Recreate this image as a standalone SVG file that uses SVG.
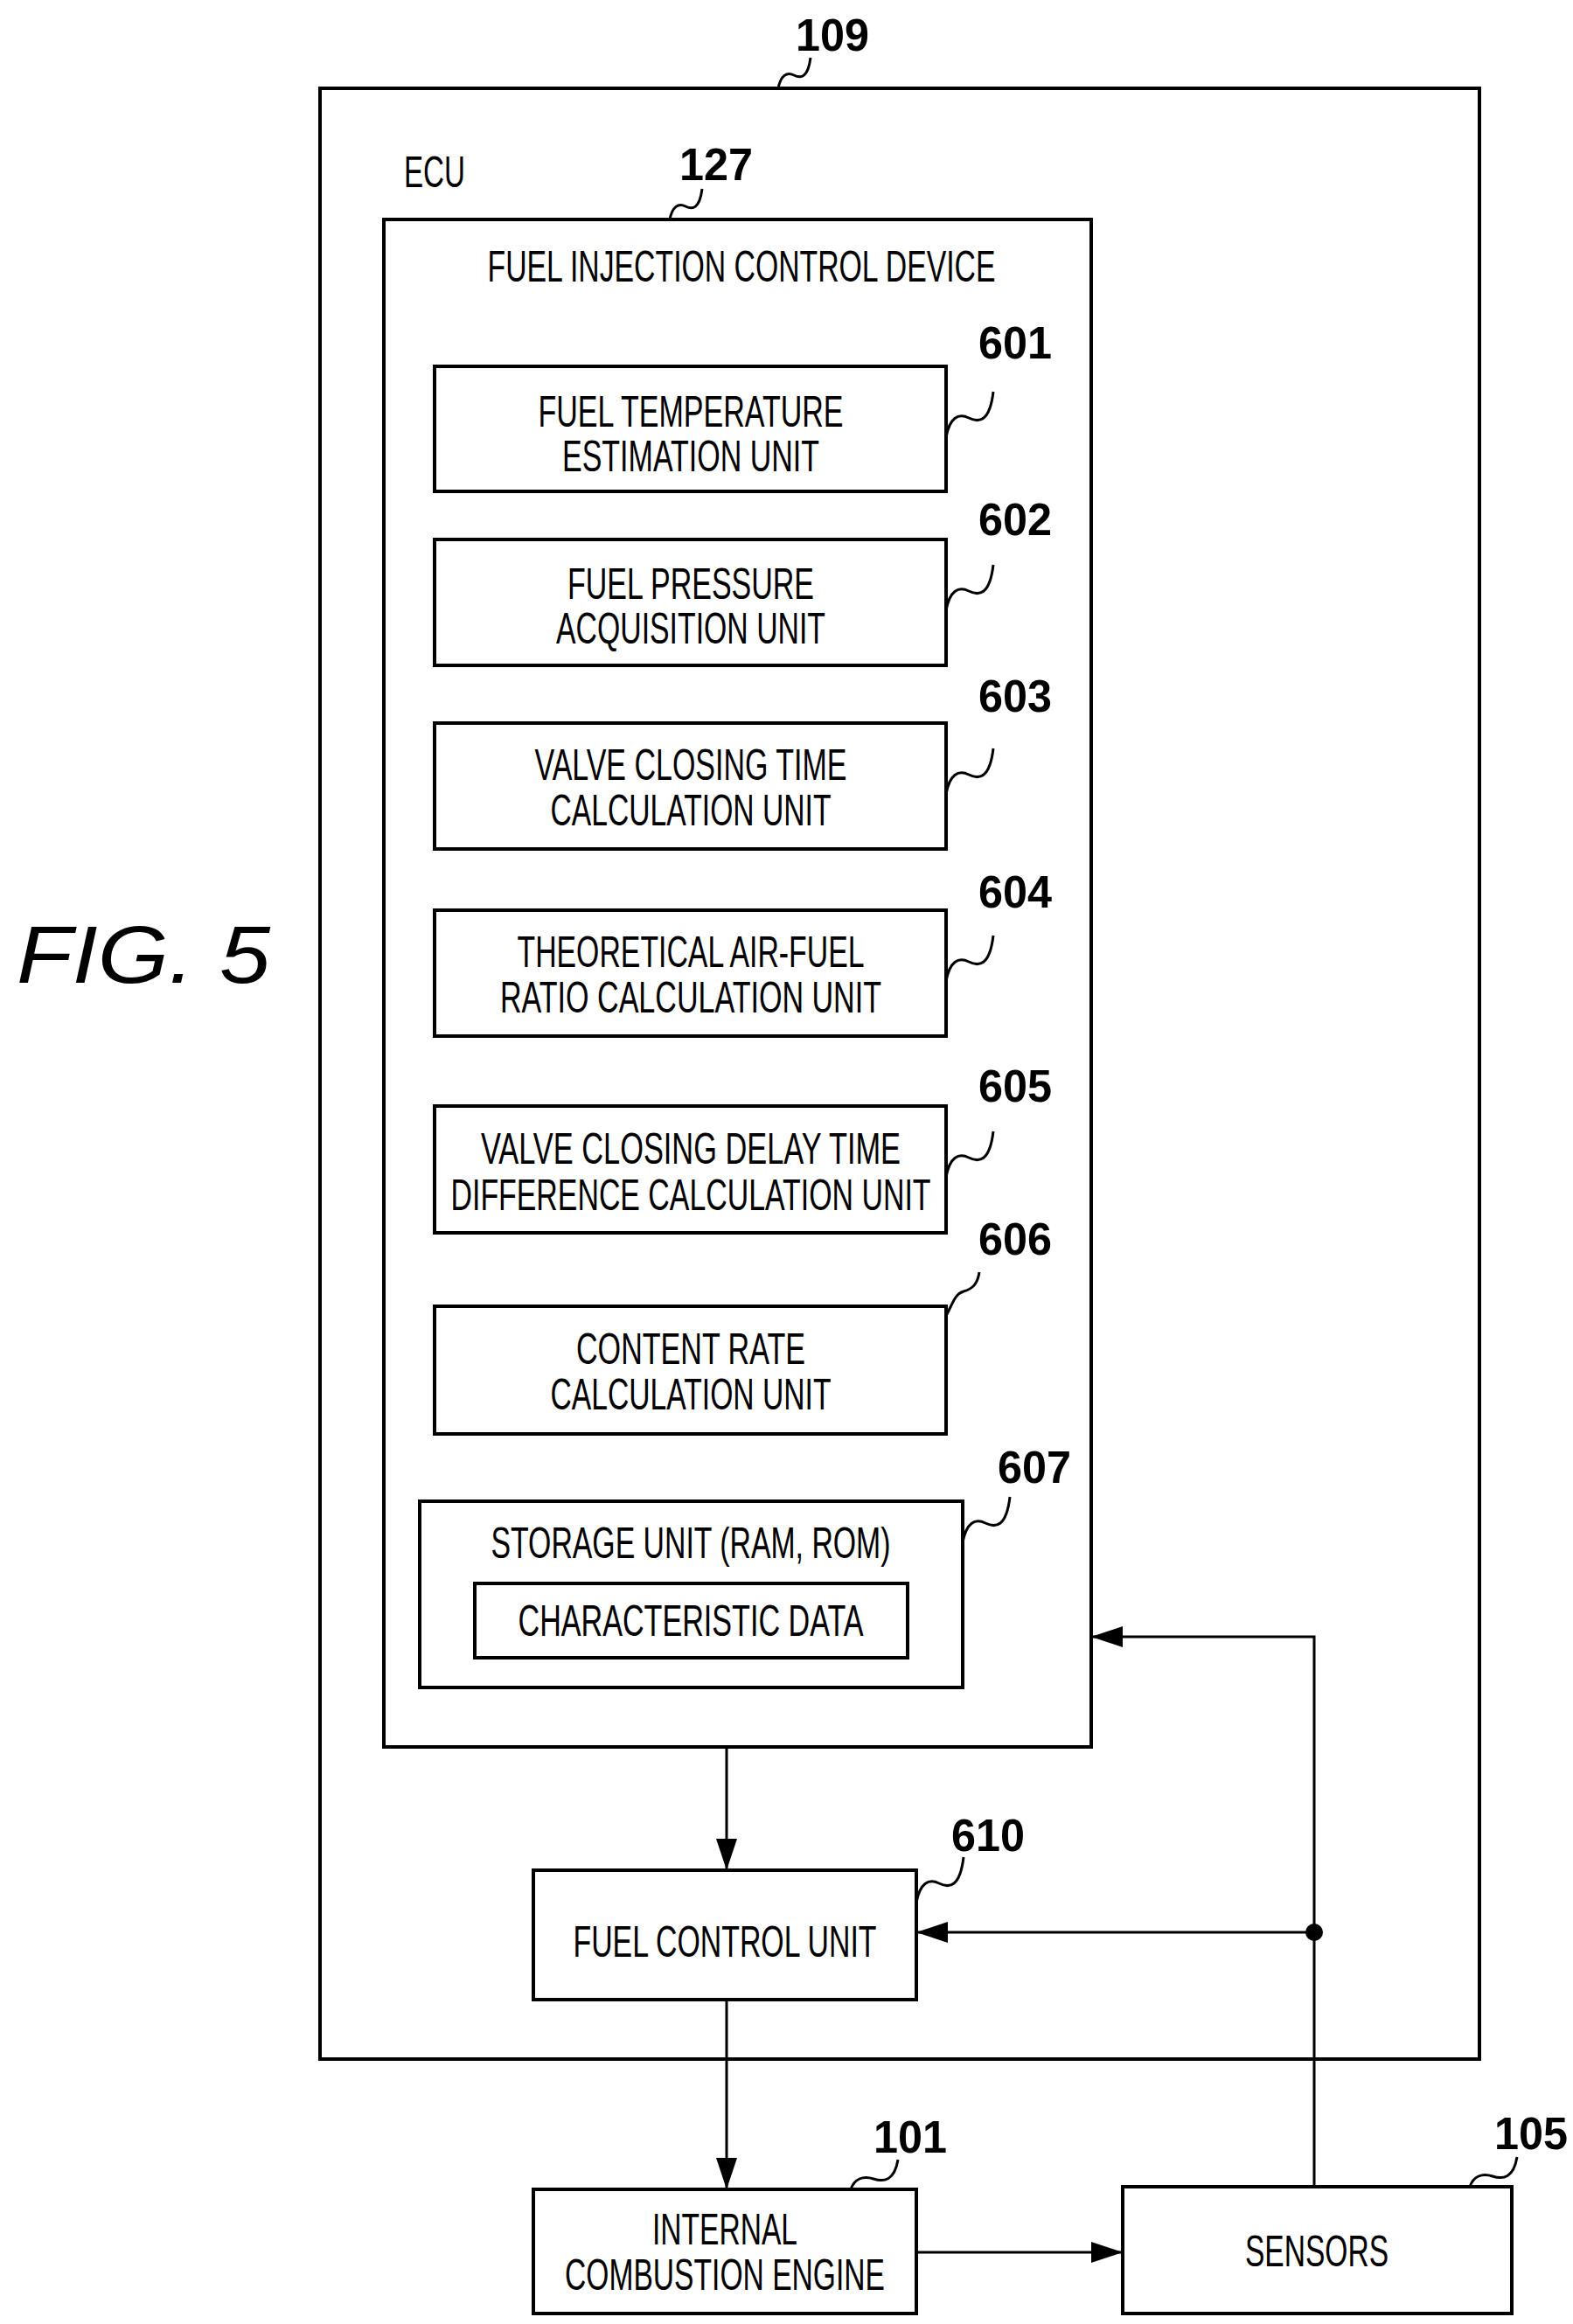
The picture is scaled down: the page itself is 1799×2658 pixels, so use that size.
<svg xmlns="http://www.w3.org/2000/svg" width="1799" height="2658" viewBox="0 0 1799 2658">
<style>
.b{fill:none;stroke:#000;stroke-width:4}
.l{fill:none;stroke:#000;stroke-width:3}
.t{font-family:"Liberation Sans",Arial,sans-serif;font-size:50px;text-anchor:middle;fill:#000}
.n{font-family:"Liberation Sans",Arial,sans-serif;font-size:52px;font-weight:bold;text-anchor:middle;fill:#000}
</style>
<defs>
<marker id="A" markerWidth="36" markerHeight="24" refX="36" refY="12" orient="auto" markerUnits="userSpaceOnUse"><path d="M0,0 L36,12 L0,24 z"/></marker>
</defs>
<rect width="1799" height="2658" fill="#fff"/>
<text x="164" y="1124" font-family="Liberation Sans,Arial,sans-serif" font-size="92" font-style="italic" text-anchor="middle" textLength="290" lengthAdjust="spacingAndGlyphs">FIG. 5</text>
<g id="n109">
<rect class="b" x="366" y="101" width="1326" height="2254"/>
<path class="l" d="M890,101 c3,-15 10,-19 18,-15 s16,3 19,-20"/>
<text class="n" x="952" y="58" textLength="84" lengthAdjust="spacingAndGlyphs">109</text>
<text class="t" x="497" y="214" textLength="70" lengthAdjust="spacingAndGlyphs">ECU</text>
</g>
<g id="n127">
<rect class="b" x="439" y="251" width="809" height="1747"/>
<path class="l" d="M766,251 c3,-15 10,-19 18,-15 s16,3 19,-20"/>
<text class="n" x="819" y="206" textLength="84" lengthAdjust="spacingAndGlyphs">127</text>
<text class="t" x="848" y="322" textLength="581" lengthAdjust="spacingAndGlyphs">FUEL INJECTION CONTROL DEVICE</text>
</g>
<g id="n601">
<rect class="b" x="497" y="419" width="585" height="143"/>
<path class="l" d="M1082,500 c4,-22 14,-28 26,-22 s24,4 28,-30"/>
<text class="n" x="1161" y="410" textLength="84" lengthAdjust="spacingAndGlyphs">601</text>
<text class="t" x="790" y="488" textLength="349" lengthAdjust="spacingAndGlyphs">FUEL TEMPERATURE</text>
<text class="t" x="790" y="539" textLength="294" lengthAdjust="spacingAndGlyphs">ESTIMATION UNIT</text>
</g>
<g id="n602">
<rect class="b" x="497" y="617" width="585" height="144"/>
<path class="l" d="M1082,698 c4,-22 14,-28 26,-22 s24,4 28,-30"/>
<text class="n" x="1161" y="612" textLength="84" lengthAdjust="spacingAndGlyphs">602</text>
<text class="t" x="790" y="685" textLength="282" lengthAdjust="spacingAndGlyphs">FUEL PRESSURE</text>
<text class="t" x="790" y="736" textLength="308" lengthAdjust="spacingAndGlyphs">ACQUISITION UNIT</text>
</g>
<g id="n603">
<rect class="b" x="497" y="827" width="585" height="144"/>
<path class="l" d="M1082,908 c4,-22 14,-28 26,-22 s24,4 28,-30"/>
<text class="n" x="1161" y="814" textLength="84" lengthAdjust="spacingAndGlyphs">603</text>
<text class="t" x="790" y="892" textLength="357" lengthAdjust="spacingAndGlyphs">VALVE CLOSING TIME</text>
<text class="t" x="790" y="944" textLength="321" lengthAdjust="spacingAndGlyphs">CALCULATION UNIT</text>
</g>
<g id="n604">
<rect class="b" x="497" y="1041" width="585" height="144"/>
<path class="l" d="M1082,1122 c4,-22 14,-28 26,-22 s24,4 28,-30"/>
<text class="n" x="1161" y="1038" textLength="84" lengthAdjust="spacingAndGlyphs">604</text>
<text class="t" x="790" y="1106" textLength="397" lengthAdjust="spacingAndGlyphs">THEORETICAL AIR-FUEL</text>
<text class="t" x="790" y="1158" textLength="436" lengthAdjust="spacingAndGlyphs">RATIO CALCULATION UNIT</text>
</g>
<g id="n605">
<rect class="b" x="497" y="1265" width="585" height="145"/>
<path class="l" d="M1082,1346 c4,-22 14,-28 26,-22 s24,4 28,-30"/>
<text class="n" x="1161" y="1260" textLength="84" lengthAdjust="spacingAndGlyphs">605</text>
<text class="t" x="790" y="1331" textLength="480" lengthAdjust="spacingAndGlyphs">VALVE CLOSING DELAY TIME</text>
<text class="t" x="790" y="1384" textLength="549" lengthAdjust="spacingAndGlyphs">DIFFERENCE CALCULATION UNIT</text>
</g>
<g id="n606">
<rect class="b" x="497" y="1494" width="585" height="146"/>
<path class="l" d="M1082,1505 c8,-15 10,-25 20,-28 s16,-8 18,-22"/>
<text class="n" x="1161" y="1435" textLength="84" lengthAdjust="spacingAndGlyphs">606</text>
<text class="t" x="790" y="1560" textLength="262" lengthAdjust="spacingAndGlyphs">CONTENT RATE</text>
<text class="t" x="790" y="1612" textLength="321" lengthAdjust="spacingAndGlyphs">CALCULATION UNIT</text>
</g>
<g id="n607">
<rect class="b" x="480" y="1717" width="621" height="213"/>
<path class="l" d="M1101,1764 c4,-22 14,-28 26,-22 s24,4 28,-30"/>
<text class="n" x="1183" y="1696" textLength="84" lengthAdjust="spacingAndGlyphs">607</text>
<text class="t" x="790" y="1782" textLength="457" lengthAdjust="spacingAndGlyphs">STORAGE UNIT (RAM, ROM)</text>
<rect class="b" x="543" y="1811" width="495" height="85"/>
<text class="t" x="790" y="1871" textLength="395" lengthAdjust="spacingAndGlyphs">CHARACTERISTIC DATA</text>
</g>
<g id="n610">
<rect class="b" x="610" y="2139" width="438" height="148"/>
<path class="l" d="M1048,2176 c4,-22 14,-28 26,-22 s24,4 28,-30"/>
<text class="n" x="1130" y="2117" textLength="84" lengthAdjust="spacingAndGlyphs">610</text>
<text class="t" x="829" y="2238" textLength="347" lengthAdjust="spacingAndGlyphs">FUEL CONTROL UNIT</text>
</g>
<g id="n101">
<rect class="b" x="610" y="2504" width="438" height="142"/>
<path class="l" d="M973,2504 c4,-12 14,-16 26,-12 s24,2 28,-22"/>
<text class="n" x="1041" y="2462" textLength="84" lengthAdjust="spacingAndGlyphs">101</text>
<text class="t" x="829" y="2567" textLength="166" lengthAdjust="spacingAndGlyphs">INTERNAL</text>
<text class="t" x="829" y="2619" textLength="366" lengthAdjust="spacingAndGlyphs">COMBUSTION ENGINE</text>
</g>
<g id="n105">
<rect class="b" x="1284" y="2501" width="445" height="145"/>
<path class="l" d="M1681,2501 c4,-12 14,-16 26,-12 s24,2 28,-22"/>
<text class="n" x="1751" y="2458" textLength="84" lengthAdjust="spacingAndGlyphs">105</text>
<text class="t" x="1506" y="2592" textLength="164" lengthAdjust="spacingAndGlyphs">SENSORS</text>
</g>
<g id="connectors">
<path class="l" d="M831,1998 V2139" marker-end="url(#A)"/>
<path class="l" d="M831,2287 V2504" marker-end="url(#A)"/>
<path class="l" d="M1048,2576 H1284" marker-end="url(#A)"/>
<path class="l" d="M1503,2501 V1872 H1248" marker-end="url(#A)"/>
<path class="l" d="M1503,2210 H1048" marker-end="url(#A)"/>
<circle cx="1503" cy="2210" r="10"/>
</g>
</svg>
